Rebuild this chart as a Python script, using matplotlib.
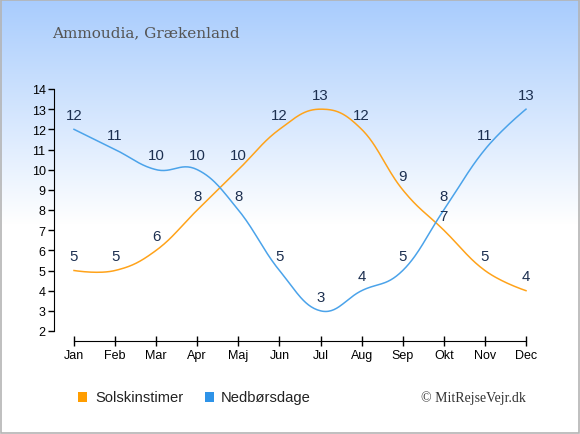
import numpy as np
import matplotlib
matplotlib.use("Agg")
import matplotlib.pyplot as plt
from matplotlib.patches import Rectangle

months = ["Jan", "Feb", "Mar", "Apr", "Maj", "Jun", "Jul", "Aug", "Sep", "Okt", "Nov", "Dec"]
sun_hours = [5, 5, 6, 8, 10, 12, 13, 12, 9, 7, 5, 4]
rain_days = [12, 11, 10, 10, 8, 5, 3, 4, 5, 8, 11, 13]
y_ticks = list(range(2, 15))

title = "Ammoudia, Grækenland"
sun_label = "Solskinstimer"
rain_label = "Nedbørsdage"
credit = "© MitRejseVejr.dk"

SUN_COLOR = "#ffa31a"
RAIN_COLOR = "#4ba3ea"
SUN_SQ = "#ff9d00"
RAIN_SQ = "#2e93e8"
LABEL_COLOR = "#1c2f50"


def spline(xs, ys, smoothing=1.5, n=30):
    xs = np.asarray(xs, float)
    ys = np.asarray(ys, float)
    m = len(xs)
    denom = smoothing + 1
    lc = np.zeros((m, 2))
    rc = np.zeros((m, 2))
    for i in range(m):
        x, y = xs[i], ys[i]
        if i == 0 or i == m - 1:
            lc[i] = rc[i] = (x, y)
            continue
        lx = (smoothing * x + xs[i - 1]) / denom
        ly = (smoothing * y + ys[i - 1]) / denom
        rx = (smoothing * x + xs[i + 1]) / denom
        ry = (smoothing * y + ys[i + 1]) / denom
        corr = (ry - ly) * (rx - x) / (rx - lx) + y - ry
        lc[i] = (lx, ly + corr)
        rc[i] = (rx, ry + corr)
    px, py = [xs[0]], [ys[0]]
    t = np.linspace(0, 1, n)[1:]
    for i in range(1, m):
        p0 = np.array([xs[i - 1], ys[i - 1]])
        p1 = rc[i - 1]
        p2 = lc[i]
        p3 = np.array([xs[i], ys[i]])
        b = ((1 - t) ** 3)[:, None] * p0 + (3 * (1 - t) ** 2 * t)[:, None] * p1 \
            + (3 * (1 - t) * t ** 2)[:, None] * p2 + (t ** 3)[:, None] * p3
        px.extend(b[:, 0])
        py.extend(b[:, 1])
    return np.array(px), np.array(py)


W, H = 580, 435
fig = plt.figure(figsize=(W / 100, H / 100), dpi=100)

# background gradient
bg = fig.add_axes([0, 0, 1, 1], zorder=-10)
grad = np.ones((H, 1, 3))
top = np.array([168, 204, 253]) / 255.0
for r in range(H):
    f = min(r / 225.0, 1.0)
    grad[r, 0] = top * (1 - f) + np.array([1, 1, 1]) * f
bg.imshow(grad, aspect="auto", extent=[0, W, H, 0])
bg.set_xlim(0, W)
bg.set_ylim(H, 0)
bg.axis("off")
bg.add_patch(Rectangle((0.5, 0.5), W - 1.5, H - 1.5, fill=False, edgecolor="#b4b4b4", linewidth=1.2))

# main axes
left_px, right_px, top_px, bot_px = 54, 526, 90, 342
ax = fig.add_axes([left_px / W, 1 - bot_px / H, (right_px - left_px) / W, (bot_px - top_px) / H])
ax.patch.set_alpha(0)
x = np.arange(len(months))
ppm = (526 - 74) / 11.0
ax.set_xlim(-(74 - 54) / ppm, 11)
ppu = (332 - 90) / 12.0
ax.set_ylim(2 - (342 - 332) / ppu, 14)

sx, sy = spline(x, sun_hours)
rx, ry = spline(x, rain_days)
ax.plot(sx, sy, color=SUN_COLOR, lw=1.1, clip_on=False)
ax.plot(rx, ry, color=RAIN_COLOR, lw=1.1, clip_on=False)

for xi, v in zip(x, sun_hours):
    ax.annotate(str(v), (xi, v), xytext=(0, 10.3), textcoords="offset points",
                ha="center", va="center", fontsize=10.8, color=LABEL_COLOR, family="Liberation Sans")
for xi, v in zip(x, rain_days):
    ax.annotate(str(v), (xi, v), xytext=(0, 10.3), textcoords="offset points",
                ha="center", va="center", fontsize=10.8, color=LABEL_COLOR, family="Liberation Sans")

for s in ["top", "right"]:
    ax.spines[s].set_visible(False)
ax.spines["left"].set_bounds(2, 14)
ax.spines["bottom"].set_bounds(0, 11)
ax.set_xticks(x)
ax.set_xticklabels(months)
ax.set_yticks(y_ticks)
ax.tick_params(axis="x", direction="inout", length=7, width=1, labelsize=9, pad=2)
ax.tick_params(axis="y", direction="out", length=4, width=1, labelsize=9, pad=2)
for lab in ax.get_xticklabels() + ax.get_yticklabels():
    lab.set_fontfamily("Liberation Sans")

# title
fig.text(52 / W, 1 - 33 / H, title, fontsize=11, family="DejaVu Serif", color="#555555",
         ha="left", va="center")

# legend
ly = 1 - 398 / H
bg.add_patch(Rectangle((78, 393), 9, 10, facecolor=SUN_SQ, edgecolor="none"))
bg.add_patch(Rectangle((205, 393), 9, 10, facecolor=RAIN_SQ, edgecolor="none"))
fig.text(95 / W, ly, sun_label, fontsize=10.6, family="Liberation Sans", color="#222222", va="center")
fig.text(221 / W, ly, rain_label, fontsize=10.6, family="Liberation Sans", color="#222222", va="center")
fig.text(526 / W, ly, credit, fontsize=10, family="Liberation Serif", color="#333333",
         va="center", ha="right")

fig.savefig("out.png", dpi=100)
